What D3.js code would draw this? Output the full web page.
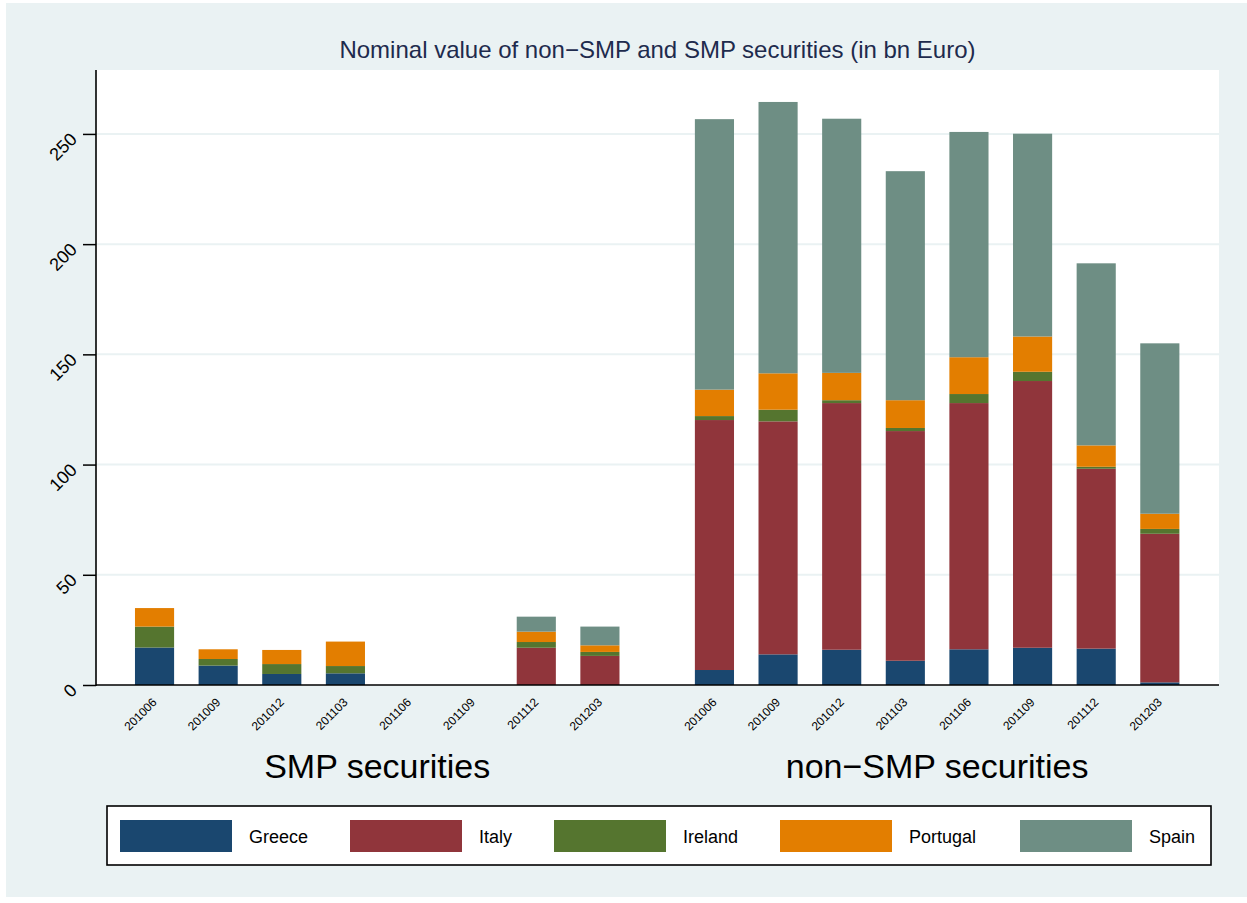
<!DOCTYPE html>
<html>
<head>
<meta charset="utf-8">
<script src="https://cdn.jsdelivr.net/npm/d3@7"></script>
<style>
  body { margin: 0; background: #fff; }
  text { font-family: "Liberation Sans", Arial, Helvetica, sans-serif; }
</style>
</head>
<body>
<svg width="1247" height="903"></svg>
<script>
// data (bn Euro)
var dates = ["201006", "201009", "201012", "201103", "201106", "201109", "201112", "201203"];
var groups = ["SMP securities", "non\u2212SMP securities"];
var countries = ["Greece", "Italy", "Ireland", "Portugal", "Spain"];
var colors = ["#1a476f", "#90353b", "#55752f", "#e37e00", "#6e8e84"];
var yTicks = [0, 50, 100, 150, 200, 250];

var smpGreece   = [17.0, 8.8, 5.0, 5.3, 0, 0, 0, 0];
var smpItaly    = [0, 0, 0, 0, 0, 0, 16.9, 13.2];
var smpIreland  = [9.5, 3.0, 4.5, 3.3, 0, 0, 2.6, 1.8];
var smpPortugal = [8.4, 4.4, 6.4, 11.1, 0, 0, 4.7, 3.0];
var smpSpain    = [0, 0, 0, 0, 0, 0, 6.8, 8.5];

var nonGreece   = [6.8, 13.9, 16.0, 11.0, 16.2, 16.9, 16.5, 1.2];
var nonItaly    = [113.4, 105.7, 111.9, 104.2, 111.7, 121.0, 81.6, 67.4];
var nonIreland  = [1.8, 5.3, 1.3, 1.4, 4.1, 4.2, 0.9, 2.2];
var nonPortugal = [12.0, 16.5, 12.4, 12.6, 16.7, 16.0, 9.7, 6.9];
var nonSpain    = [122.7, 123.1, 115.3, 103.9, 102.2, 92.0, 82.6, 77.3];

var seriesByGroup = [
    [smpGreece, smpItaly, smpIreland, smpPortugal, smpSpain],
    [nonGreece, nonItaly, nonIreland, nonPortugal, nonSpain]
];

var svg = d3.select("svg");
var pLeft = 96, pRight = 1219, pTop = 70, pBottom = 685;
var groupOffset = 8.8;   // slot index where the second group starts
var barW = 0.615;        // bar width in slots

// background
svg.append("rect").attr("x", 6).attr("y", 3).attr("width", 1241).attr("height", 894)
    .attr("fill", "#eaf2f3");
svg.append("rect").attr("x", pLeft).attr("y", pTop).attr("width", pRight - pLeft).attr("height", pBottom - pTop)
    .attr("fill", "#fff");

var x = d3.scaleLinear().domain([-0.92, 16.73]).range([pLeft, pRight]);
var y = d3.scaleLinear().domain([0, 279]).range([pBottom, pTop]);
var slot = x(1) - x(0);

// grid
svg.append("g").selectAll("line").data(yTicks.slice(1)).enter().append("line")
    .attr("x1", pLeft).attr("x2", pRight)
    .attr("y1", function(d) { return y(d); }).attr("y2", function(d) { return y(d); })
    .attr("stroke", "#eaf2f3").attr("stroke-width", 2);

var stack = d3.stack().keys(countries);

groups.forEach(function(gname, gi) {
    var rows = dates.map(function(d, i) {
        var r = {date: d, pos: i + gi * groupOffset};
        countries.forEach(function(c, ci) { r[c] = seriesByGroup[gi][ci][i]; });
        return r;
    });
    var layers = stack(rows);
    var g = svg.append("g");
    g.selectAll("g").data(layers).enter().append("g")
        .attr("fill", function(d, i) { return colors[i]; })
        .selectAll("rect").data(function(d) { return d; }).enter().append("rect")
        .attr("x", function(d) { return x(d.data.pos) - barW * slot / 2; })
        .attr("width", barW * slot)
        .attr("y", function(d) { return y(d[1]); })
        .attr("height", function(d) { return y(d[0]) - y(d[1]); });

    // date labels
    g.selectAll("text.date").data(rows).enter().append("text")
        .attr("class", "date")
        .attr("transform", function(d) { return "translate(" + (x(d.pos) + 3) + ",703) rotate(-45)"; })
        .attr("text-anchor", "end")
        .attr("font-size", 12)
        .text(function(d) { return d.date; });

    // group label
    g.append("text")
        .attr("x", (x(gi * groupOffset) + x(gi * groupOffset + dates.length - 1)) / 2)
        .attr("y", 778)
        .attr("text-anchor", "middle")
        .attr("font-size", 34)
        .text(gname);
});

// y axis
var yAxis = svg.append("g").attr("transform", "translate(" + pLeft + ",0)")
    .call(d3.axisLeft(y).tickValues(yTicks).tickSize(13).tickPadding(0).tickFormat(d3.format("d")));
yAxis.select(".domain").remove();
yAxis.selectAll(".tick line").attr("stroke", "#000").attr("stroke-width", 1.5);
yAxis.selectAll(".tick text")
    .attr("x", null).attr("dy", null)
    .attr("font-size", 18)
    .attr("fill", "#000")
    .attr("text-anchor", "end")
    .attr("transform", "translate(-18,6) rotate(-45)");

svg.append("line").attr("x1", pLeft).attr("x2", pLeft).attr("y1", pTop).attr("y2", pBottom + 1)
    .attr("stroke", "#000").attr("stroke-width", 1.6);
svg.append("line").attr("x1", pLeft).attr("x2", pRight).attr("y1", pBottom).attr("y2", pBottom)
    .attr("stroke", "#000").attr("stroke-width", 1.6);

// title
svg.append("text")
    .attr("x", (pLeft + pRight) / 2).attr("y", 58)
    .attr("text-anchor", "middle")
    .attr("font-size", 24)
    .attr("fill", "#1e2b4d")
    .text("Nominal value of non\u2212SMP and SMP securities (in bn Euro)");

// legend
var legendX = [120, 350, 554, 780, 1020];
var legend = svg.append("g");
legend.append("rect").attr("x", 107).attr("y", 806).attr("width", 1104).attr("height", 59)
    .attr("fill", "#fff").attr("stroke", "#000").attr("stroke-width", 1.6);
var items = legend.selectAll("g.item").data(countries).enter().append("g")
    .attr("transform", function(d, i) { return "translate(" + legendX[i] + ",0)"; });
items.append("rect").attr("x", 0).attr("y", 820).attr("width", 112).attr("height", 32)
    .attr("fill", function(d, i) { return colors[i]; });
items.append("text").attr("x", 129).attr("y", 843).attr("font-size", 18)
    .text(function(d) { return d; });
</script>
</body>
</html>
